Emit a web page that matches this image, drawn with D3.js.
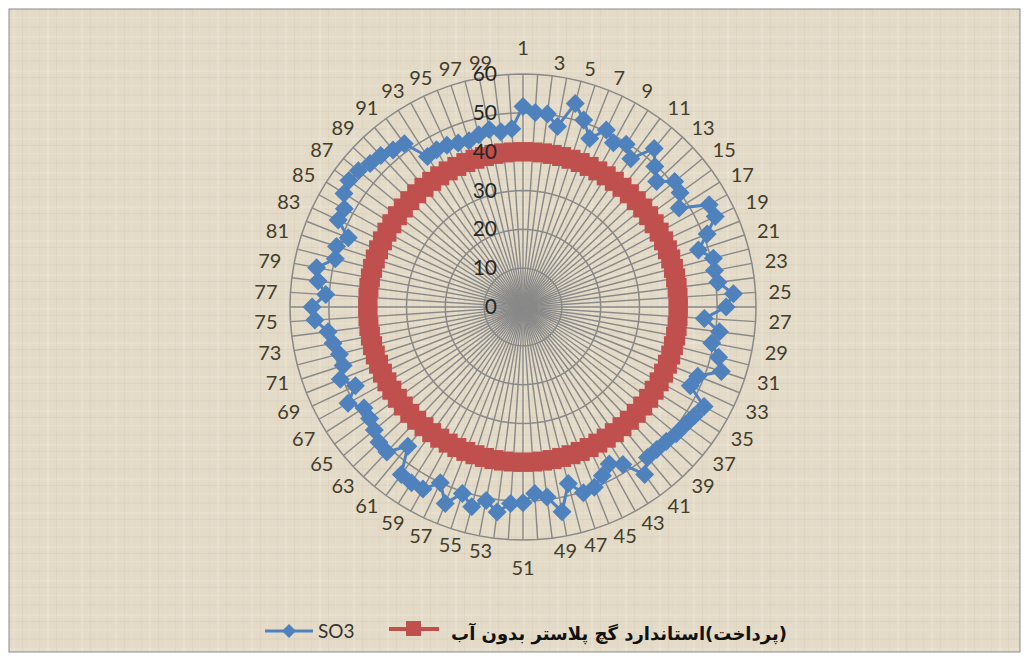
<!DOCTYPE html>
<html>
<head>
<meta charset="utf-8">
<script src="https://cdn.jsdelivr.net/npm/d3@7"></script>
<style>
body { margin: 0; background: #fff; }
svg { display: block; }
</style>
</head>
<body>
<div id="viz"></div>
<script>
// categories 1..100 around the circle, only odd ones are labelled
var categories = d3.range(1, 101);

var so3 = [
  51.6, 50.2, 50.1, 47.3, 54.1, 50.6, 46.7, 50.4, 48.3, 49.6,
  47.2, 53.0, 49.6, 47.2, 50.7, 50.0, 47.6, 54.7, 54.7, 51.0,
  47.5, 50.6, 50.2, 50.6, 54.3, 52.3, 46.8, 51.0, 49.5, 52.0,
  53.7, 48.4, 47.6, 53.2, 52.3, 51.6, 51.2, 50.6, 50.3, 50.3,
  53.3, 48.0, 46.1, 48.0, 49.9, 50.3, 46.9, 53.7, 49.3, 48.1,
  50.4, 50.7, 53.2, 50.7, 53.1, 50.5, 54.4, 50.0, 53.5, 53.6,
  53.3, 46.5, 51.2, 50.9, 49.7, 48.8, 48.5, 51.4, 47.7, 50.6,
  48.7, 48.8, 49.8, 50.6, 53.7, 54.3, 50.9, 53.2, 54.1, 49.9,
  50.5, 48.4, 52.6, 52.5, 54.6, 55.4, 55.0, 54.0, 53.5, 52.5,
  52.0, 45.9, 46.2, 46.0, 45.4, 45.0, 45.8, 46.5, 45.5, 46.0
];

var standard = [
  40, 40, 40, 40, 40, 40, 40, 40, 40, 40,
  40, 40, 40, 40, 40, 40, 40, 40, 40, 40,
  40, 40, 40, 40, 40, 40, 40, 40, 40, 40,
  40, 40, 40, 40, 40, 40, 40, 40, 40, 40,
  40, 40, 40, 40, 40, 40, 40, 40, 40, 40,
  40, 40, 40, 40, 40, 40, 40, 40, 40, 40,
  40, 40, 40, 40, 40, 40, 40, 40, 40, 40,
  40, 40, 40, 40, 40, 40, 40, 40, 40, 40,
  40, 40, 40, 40, 40, 40, 40, 40, 40, 40,
  40, 40, 40, 40, 40, 40, 40, 40, 40, 40
];

var radialTicks = [0, 10, 20, 30, 40, 50, 60];
var seriesNames = ["SO3", "(پرداخت)استاندارد گچ پلاستر بدون آب"];

var width = 1024, height = 658;
var cx = 523, cy = 307, R = 233;
var blue = "#4f81bd", red = "#c0504d", grid = "#898989";

var svg = d3.select("#viz")
        .append("svg")
        .attr("width", width)
        .attr("height", height);

// woven paper-ish background, kept subtle
var defs = svg.append("defs");
var pat = defs.append("pattern")
        .attr("id", "canvas")
        .attr("patternUnits", "userSpaceOnUse")
        .attr("width", 34)
        .attr("height", 34);
pat.append("rect").attr("width", 34).attr("height", 34).attr("fill", "#e3dac7");
[[2, "#efe8da", 2], [9, "#d3c9b3", 1], [17, "#ece5d6", 1], [26, "#d8cebb", 2]].forEach(function(h) {
    pat.append("rect").attr("x", 0).attr("y", h[0]).attr("width", 34).attr("height", h[2])
       .attr("fill", h[1]).attr("opacity", 0.4);
});
[[5, "#d7cdb9", 1], [13, "#efe9dd", 2], [22, "#d2c7b0", 1], [29, "#ebe3d2", 1]].forEach(function(v) {
    pat.append("rect").attr("x", v[0]).attr("y", 0).attr("width", v[2]).attr("height", 34)
       .attr("fill", v[1]).attr("opacity", 0.35);
});

svg.append("rect")
        .attr("x", 9).attr("y", 9)
        .attr("width", 1011).attr("height", 643)
        .attr("fill", "url(#canvas)")
        .attr("stroke", "#8c8c8c")
        .attr("stroke-width", 1);

var r = d3.scaleLinear().domain([0, 60]).range([0, R]);
var angle = d3.scaleLinear().domain([0, categories.length]).range([0, 2 * Math.PI]);

var g = svg.append("g").attr("transform", "translate(" + cx + "," + cy + ")");

// spokes
g.selectAll("line.spoke")
        .data(categories)
        .enter()
        .append("line")
        .attr("class", "spoke")
        .attr("x1", 0).attr("y1", 0)
        .attr("x2", function(d, i) { return r(60) * Math.sin(angle(i)); })
        .attr("y2", function(d, i) { return -r(60) * Math.cos(angle(i)); })
        .style("stroke", grid)
        .style("stroke-width", 1.4);

// rings
var ringLine = d3.lineRadial()
        .angle(function(d, i) { return angle(i); })
        .curve(d3.curveLinearClosed);

g.selectAll("path.ring")
        .data(radialTicks.slice(1))
        .enter()
        .append("path")
        .attr("class", "ring")
        .attr("d", function(v) { return ringLine.radius(r(v))(categories); })
        .style("fill", "none")
        .style("stroke", grid)
        .style("stroke-width", 1.5);

// category labels
g.selectAll("text.cat")
        .data(categories.filter(function(d) { return d % 2 === 1; }))
        .enter()
        .append("text")
        .attr("class", "cat")
        .each(function(d) {
            var a = angle(d - 1), rr = 246;
            var x = rr * Math.sin(a), y = -rr * Math.cos(a);
            var s = Math.sin(a), t = d3.select(this);
            if (Math.abs(s) < 1e-6) {
                t.attr("text-anchor", "middle").attr("x", x)
                 .attr("y", Math.cos(a) > 0 ? y - 6 : y + 22);
            } else {
                t.attr("text-anchor", s > 0 ? "start" : "end")
                 .attr("x", x).attr("y", y + 7);
            }
        })
        .text(function(d) { return d; })
        .style("font-family", "Lato, 'Open Sans', sans-serif")
        .style("font-size", "20px")
        .style("fill", "#433d2b");

// series
var seriesLine = d3.lineRadial()
        .angle(function(d, i) { return angle(i); })
        .radius(function(d) { return r(d); })
        .curve(d3.curveLinearClosed);

g.append("path")
        .datum(standard)
        .attr("d", seriesLine)
        .style("fill", "none")
        .style("stroke", red)
        .style("stroke-width", 5);

g.selectAll("rect.std")
        .data(standard)
        .enter()
        .append("rect")
        .attr("class", "std")
        .attr("width", 19).attr("height", 19)
        .attr("x", function(d, i) { return r(d) * Math.sin(angle(i)) - 9.5; })
        .attr("y", function(d, i) { return -r(d) * Math.cos(angle(i)) - 9.5; })
        .style("fill", red);

g.append("path")
        .datum(so3)
        .attr("d", seriesLine)
        .style("fill", "none")
        .style("stroke", blue)
        .style("stroke-width", 3);

var diamond = "M0,-9.5L9.5,0L0,9.5L-9.5,0Z";
g.selectAll("path.so3")
        .data(so3)
        .enter()
        .append("path")
        .attr("class", "so3")
        .attr("d", diamond)
        .attr("transform", function(d, i) {
            return "translate(" + (r(d) * Math.sin(angle(i))) + "," + (-r(d) * Math.cos(angle(i))) + ")";
        })
        .style("fill", blue);

// radial axis labels
g.selectAll("text.tick")
        .data(radialTicks)
        .enter()
        .append("text")
        .attr("class", "tick")
        .attr("x", -26)
        .attr("y", function(d) { return -r(d) + 7; })
        .attr("text-anchor", "end")
        .text(function(d) { return d; })
        .style("font-family", "Lato, 'Open Sans', sans-serif")
        .style("font-size", "21px")
        .style("fill", "#262626");

// legend
var lg = svg.append("g");
lg.append("line").attr("x1", 265).attr("x2", 313).attr("y1", 631).attr("y2", 631)
        .style("stroke", blue).style("stroke-width", 3);
lg.append("path").attr("d", "M0,-7L7,0L0,7L-7,0Z")
        .attr("transform", "translate(289,631)").style("fill", blue);
lg.append("text").attr("x", 318).attr("y", 638)
        .text(seriesNames[0])
        .style("font-family", "Lato, 'Open Sans', sans-serif")
        .style("font-size", "19px")
        .style("fill", "#333");

lg.append("line").attr("x1", 389).attr("x2", 439).attr("y1", 629).attr("y2", 629)
        .style("stroke", red).style("stroke-width", 4);
lg.append("rect").attr("x", 406).attr("y", 621).attr("width", 15).attr("height", 15)
        .style("fill", red);
lg.append("text").attr("x", 619).attr("y", 640)
        .attr("text-anchor", "middle")
        .attr("direction", "rtl")
        .text(seriesNames[1])
        .style("font-family", "'DejaVu Sans', sans-serif")
        .style("font-weight", "bold")
        .style("font-size", "18px")
        .style("fill", "#111");
</script>
</body>
</html>
